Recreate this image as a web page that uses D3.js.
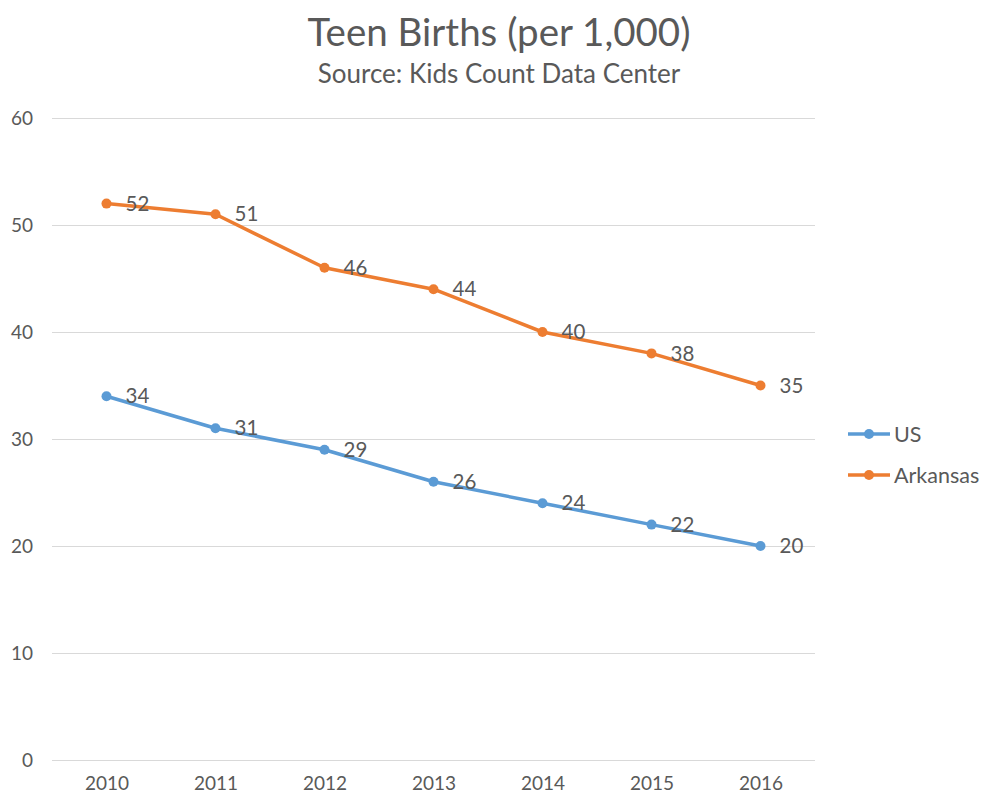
<!DOCTYPE html>
<html>
<head>
<meta charset="utf-8">
<script src="https://cdn.jsdelivr.net/npm/d3@7"></script>
<style>
  body { margin: 0; background: #fff; }
  text { font-family: Lato, "Open Sans", sans-serif; fill: #595959; }
</style>
</head>
<body>
<div id="chart"></div>
<script>
// chart data
var years = ["2010", "2011", "2012", "2013", "2014", "2015", "2016"];
var usValues = [34, 31, 29, 26, 24, 22, 20];
var arkansasValues = [52, 51, 46, 44, 40, 38, 35];
var yTicks = [0, 10, 20, 30, 40, 50, 60];
var seriesNames = ["US", "Arkansas"];
var seriesColors = ["#5B9BD5", "#ED7D31"];

var W = 982, H = 797;
var margin = {top: 118, right: 167, bottom: 37, left: 52};
var width = W - margin.left - margin.right,
    height = H - margin.top - margin.bottom;

var svg = d3.select("#chart")
  .append("svg")
    .attr("width", W)
    .attr("height", H);

// titles
svg.append("text")
  .attr("x", 499).attr("y", 46)
  .attr("text-anchor", "middle")
  .style("font-size", "38.5px")
  .text("Teen Births (per 1,000)");
svg.append("text")
  .attr("x", 499).attr("y", 83)
  .attr("text-anchor", "middle")
  .style("font-size", "26px")
  .text("Source: Kids Count Data Center");

var g = svg.append("g")
  .attr("transform", "translate(" + margin.left + "," + margin.top + ")");

var x = d3.scalePoint()
  .domain(years)
  .range([0, width])
  .padding(0.5);

var y = d3.scaleLinear()
  .domain([0, 60])
  .range([height, 0]);

// gridlines
g.append("g")
  .call(d3.axisLeft(y).tickValues(yTicks).tickSize(-width).tickFormat(""))
  .call(function(s) {
    s.select(".domain").remove();
    s.selectAll(".tick line").attr("stroke", "#d9d9d9").attr("stroke-width", 1);
  });

// y axis labels
g.append("g")
  .call(d3.axisLeft(y).tickValues(yTicks).tickSize(0).tickPadding(19))
  .call(function(s) {
    s.select(".domain").remove();
    s.selectAll(".tick text").style("font-size", "19px").attr("fill", "#595959");
  });

// x axis labels
g.append("g")
  .attr("transform", "translate(0," + height + ")")
  .call(d3.axisBottom(x).tickSize(0).tickPadding(17))
  .call(function(s) {
    s.select(".domain").remove();
    s.selectAll(".tick text").style("font-size", "19px").attr("fill", "#595959");
  });

var series = [usValues, arkansasValues].map(function(vals, i) {
  return {
    name: seriesNames[i],
    color: seriesColors[i],
    values: years.map(function(yr, j) { return {year: yr, value: vals[j]}; })
  };
});

var line = d3.line()
  .x(function(d) { return x(d.year); })
  .y(function(d) { return y(d.value); });

series.forEach(function(s) {
  g.append("path")
    .datum(s.values)
    .attr("fill", "none")
    .attr("stroke", s.color)
    .attr("stroke-width", 3.5)
    .attr("stroke-linejoin", "round")
    .attr("d", line);

  g.selectAll(null)
    .data(s.values)
    .enter().append("circle")
      .attr("cx", function(d) { return x(d.year); })
      .attr("cy", function(d) { return y(d.value); })
      .attr("r", 5)
      .attr("fill", s.color);

  g.selectAll(null)
    .data(s.values)
    .enter().append("text")
      .attr("x", function(d) { return x(d.year) + 19; })
      .attr("y", function(d) { return y(d.value); })
      .attr("dy", "0.35em")
      .style("font-size", "20.5px")
      .text(function(d) { return d.value; });
});

// legend
var legend = svg.append("g")
  .attr("transform", "translate(848,434)");
series.forEach(function(s, i) {
  var row = legend.append("g").attr("transform", "translate(0," + (i * 41) + ")");
  row.append("line")
    .attr("x1", 0).attr("x2", 42)
    .attr("stroke", s.color).attr("stroke-width", 3.5);
  row.append("circle")
    .attr("cx", 21).attr("r", 5).attr("fill", s.color);
  row.append("text")
    .attr("x", 46).attr("dy", "0.35em")
    .style("font-size", "21.5px")
    .text(s.name);
});
</script>
</body>
</html>
